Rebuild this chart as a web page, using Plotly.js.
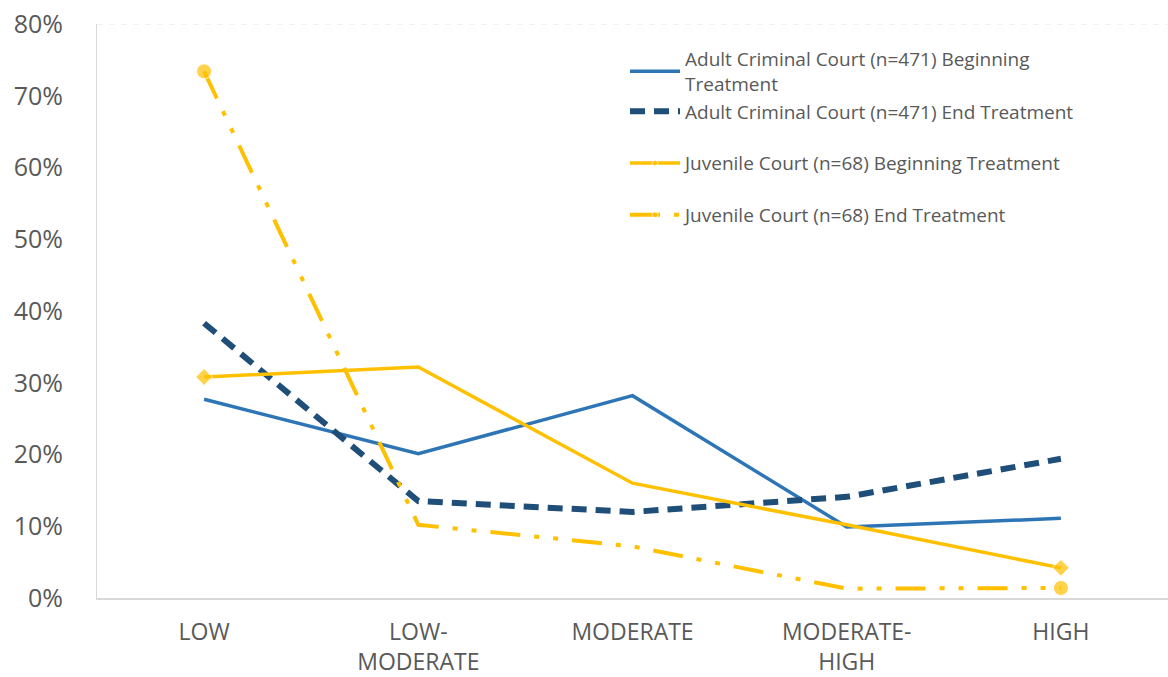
<!DOCTYPE html>
<html>
<head>
<meta charset="utf-8">
<script src="https://cdn.plot.ly/plotly-3.0.1.min.js"></script>
<style>html,body{margin:0;padding:0;background:#fff;}#chart{width:1168px;height:677px;}</style>
</head>
<body>
<div id="chart"></div>
<script>
const categories = ["LOW", "LOW-<br>MODERATE", "MODERATE", "MODERATE-<br>HIGH", "HIGH"];
const adultBegin = [27.7, 20.1, 28.2, 9.9, 11.1];
const adultEnd = [38.3, 13.5, 12.0, 14.1, 19.4];
const juvBegin = [30.8, 32.2, 16.0, 10.2, 4.2];
const juvEnd = [73.4, 10.2, 7.2, 1.3, 1.4];
const seriesNames = [
  "Adult Criminal Court (n=471) Beginning<br>Treatment",
  "Adult Criminal Court (n=471) End Treatment",
  "Juvenile Court (n=68) Beginning Treatment",
  "Juvenile Court (n=68) End Treatment"
];

const traces = [
  {x: categories, y: adultBegin, name: seriesNames[0], legendgroup: "a", type: "scatter", mode: "lines",
   line: {color: "#2E75B6", width: 3.5}},
  {x: categories, y: adultEnd, name: seriesNames[1], legendgroup: "a", type: "scatter", mode: "lines",
   line: {color: "#1F4E79", width: 6, dash: "15px,9px"}},
  {x: categories, y: juvBegin, name: seriesNames[2], legendgroup: "c", type: "scatter", mode: "lines+markers",
   line: {color: "#FFC000", width: 3.5}, marker: {symbol: "diamond", size: [13,0,0,0,13], color: "#FFC000"}},
  {x: categories, y: juvEnd, name: seriesNames[3], legendgroup: "d", type: "scatter", mode: "lines+markers",
   line: {color: "#FFC000", width: 4, dash: "30px,14px,5px,14px,5px,14px"}, marker: {symbol: "circle", size: [15,0,0,0,15], color: "#FFC000"}}
];

const layout = {
  width: 1168, height: 677,
  margin: {l: 97, r: 0, t: 24, b: 79},
  paper_bgcolor: "#fff", plot_bgcolor: "#fff",
  font: {family: "Open Sans, sans-serif", color: "#595959"},
  showlegend: true,
  legend: {x: 0.493, y: 0.972, xanchor: "left", yanchor: "top", bgcolor: "rgba(0,0,0,0)",
           font: {size: 19, color: "#595959"}, traceorder: "grouped", tracegroupgap: 24, itemwidth: 50},
  xaxis: {type: "category", range: [-0.5, 4.5], showgrid: false, zeroline: false, showline: true,
          linecolor: "#d9d9d9", linewidth: 2, ticks: "", tickfont: {size: 23, color: "#595959"},
          ticklabelstandoff: 12},
  yaxis: {range: [0, 80], dtick: 10, ticksuffix: "%", showgrid: false, zeroline: false,
          showline: true, linecolor: "#d9d9d9", linewidth: 1, ticks: "",
          tickfont: {size: 25, color: "#595959"}, ticklabelstandoff: 28},
  shapes: [{type: "line", xref: "paper", yref: "y", x0: 0, x1: 1, y0: 80, y1: 80,
            line: {color: "#d9ead3", width: 1, dash: "6px,6px"}}]
};
Plotly.newPlot("chart", traces, layout, {displayModeBar: false});
</script>
</body>
</html>
